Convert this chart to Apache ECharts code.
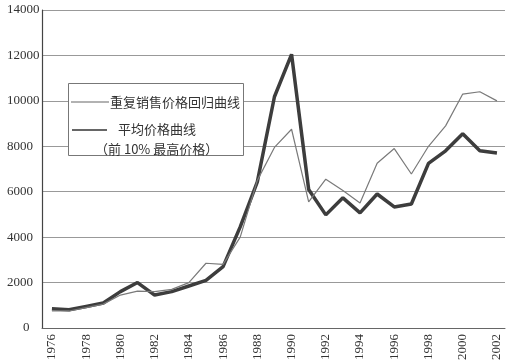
<!DOCTYPE html>
<html>
<head>
<meta charset="utf-8">
<script src="https://cdn.jsdelivr.net/npm/echarts@6/dist/echarts.min.js"></script>
<style>html,body{margin:0;padding:0;background:#fff}#c{width:511px;height:363px}</style>
</head>
<body>
<div id="c"></div>
<script>
const years = [1976,1977,1978,1979,1980,1981,1982,1983,1984,1985,1986,1987,1988,1989,1990,1991,1992,1993,1994,1995,1996,1997,1998,1999,2000,2001,2002];
const repeatSales = [750,750,900,1050,1450,1620,1600,1700,2000,2850,2800,4000,6500,7950,8750,5550,6550,6050,5500,7250,7900,6780,8000,8900,10300,10400,10000];
const avgTop10 = [850,800,950,1100,1600,2000,1450,1600,1850,2100,2700,4450,6430,10180,12050,6100,4980,5730,5070,5900,5330,5460,7250,7800,8550,7800,7700];
const xTickLabels = [1976,1978,1980,1982,1984,1986,1988,1990,1992,1994,1996,1998,2000,2002];
const seriesNames = ['重复销售价格回归曲线', '平均价格曲线', '（前 10% 最高价格）'];

const chart = echarts.init(document.getElementById('c'), null, {renderer: 'canvas'});
const serif = 'Times New Roman, Liberation Serif, serif';
const cjk = '"Noto Sans CJK SC", sans-serif';
chart.setOption({
  animation: false,
  backgroundColor: '#fff',
  grid: {left: 42, top: 10, right: 6, bottom: 35, containLabel: false},
  xAxis: {
    type: 'value', min: 1975.42, max: 2002.47,
    axisLine: {show: true, lineStyle: {color: '#666', width: 1}},
    axisTick: {show: false},
    splitLine: {show: false},
    axisLabel: {customValues: xTickLabels, rotate: 90, margin: 6, color: '#333', fontFamily: serif, fontSize: 13,
      formatter: v => String(v)}
  },
  yAxis: {
    type: 'value', min: 0, max: 14000, interval: 2000,
    axisLine: {show: true, lineStyle: {color: '#444', width: 1.2}},
    axisTick: {show: false},
    splitLine: {show: true, lineStyle: {color: '#999', width: 1}},
    axisLabel: {
      align: 'left', margin: 35, color: '#333', fontFamily: serif, fontSize: 13,
      formatter: v => v === 0 ? '{z|0}' : String(v),
      rich: {z: {padding: [0, 0, 0, 16], fontFamily: serif, fontSize: 13, color: '#333'}}
    }
  },
  series: [
    {name: seriesNames[1], type: 'line', data: years.map((y, i) => [y, avgTop10[i]]), showSymbol: false, symbol: 'none',
     lineStyle: {color: '#3d3d3d', width: 3.5}, z: 2},
    {name: seriesNames[0], type: 'line', data: years.map((y, i) => [y, repeatSales[i]]), showSymbol: false, symbol: 'none',
     lineStyle: {color: '#7a7a7a', width: 1.2}, z: 3}
  ],
  graphic: [
    {type: 'rect', shape: {x: 68.5, y: 83.5, width: 175, height: 72}, style: {fill: '#fff', stroke: '#777', lineWidth: 1}, z: 10},
    {type: 'line', shape: {x1: 71, y1: 102, x2: 109, y2: 102}, style: {stroke: '#666', lineWidth: 1.2}, z: 11},
    {type: 'text', x: 110, y: 102, style: {text: seriesNames[0], fill: '#333', font: '13px ' + cjk, textVerticalAlign: 'middle'}, z: 11},
    {type: 'line', shape: {x1: 72, y1: 130, x2: 107, y2: 130}, style: {stroke: '#333', lineWidth: 1.5}, z: 11},
    {type: 'text', x: 118, y: 129, style: {text: seriesNames[1], fill: '#333', font: '13px ' + cjk, textVerticalAlign: 'middle'}, z: 11},
    {type: 'text', x: 95, y: 149, style: {text: seriesNames[2], fill: '#333', font: '13px ' + cjk, textVerticalAlign: 'middle'}, z: 11}
  ]
});
</script>
</body>
</html>
